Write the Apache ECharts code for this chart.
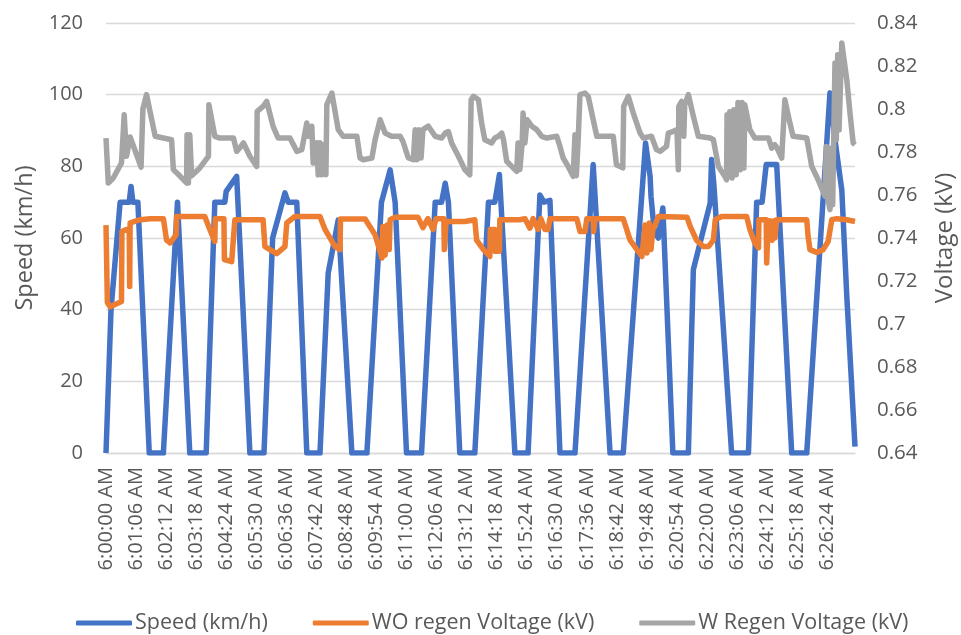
<!DOCTYPE html>
<html>
<head>
<meta charset="utf-8">
<script src="https://cdn.jsdelivr.net/npm/echarts@6/dist/echarts.min.js"></script>
<style>html,body{margin:0;padding:0;background:#fff}#c{width:961px;height:635px}</style>
</head>
<body>
<div id="c"></div>
<script>
// x tick labels (every 66 s from 6:00:00 AM)
const tickLabels = ['6:00:00 AM','6:01:06 AM','6:02:12 AM','6:03:18 AM','6:04:24 AM','6:05:30 AM','6:06:36 AM','6:07:42 AM','6:08:48 AM','6:09:54 AM','6:11:00 AM','6:12:06 AM','6:13:12 AM','6:14:18 AM','6:15:24 AM','6:16:30 AM','6:17:36 AM','6:18:42 AM','6:19:48 AM','6:20:54 AM','6:22:00 AM','6:23:06 AM','6:24:12 AM','6:25:18 AM','6:26:24 AM'];
const tickStepSec = 66;
const endSec = 1645;

// Speed (km/h): seconds after 6:00:00 AM, value
const speedT = [0,11,31,51,55,59,70,95,126,157,184,220,239,261,264,287,316,347,366,393,400,419,441,470,488,510,540,573,605,624,635,660,693,723,737,745,752,777,810,840,854,864,898,927,953,962,975,997,1030,1070,1107,1136,1185,1195,1197,1204,1213,1223,1245,1279,1290,1327,1330,1335,1374,1411,1429,1441,1450,1473,1506,1539,1590,1601,1616,1627,1645];
const speedV = [0,40,70,70,74.4,70,70,0,0,70,0,0,70,70,73,77.2,0,0,60,72.6,70,70,0,0,50.2,65,0,0,70,79,70,0,0,70,70,75.3,70,0,0,70,70,77.7,0,0,72,70,70.5,0,0,80.5,0,0,86.5,77.2,71.6,62,60,68.4,0,0,51.2,69.8,81.9,75,0,0,70,70,80.5,80.5,0,0,100.5,87.4,73.4,43.7,1.8];

// WO regen Voltage (kV)
const woT = [0,3,9,34,35,45,51,52,53,75,97,126,133,141,154,155,217,228,239,240,259,260,276,283,345,349,375,393,397,415,470,481,503,514,515,569,591,606,608,613,617,622,624,635,685,696,707,718,725,742,743,747,788,810,814,829,843,844,854,855,864,865,909,920,931,938,949,955,964,971,975,1034,1041,1052,1056,1070,1071,1074,1136,1140,1151,1177,1184,1188,1193,1197,1201,1206,1213,1276,1283,1297,1312,1323,1334,1338,1352,1407,1414,1425,1433,1434,1450,1451,1453,1458,1463,1467,1469,1473,1539,1542,1546,1561,1575,1586,1594,1605,1627,1645];
const woV = [0.746,0.710,0.708,0.7105,0.743,0.744,0.744,0.7175,0.747,0.7485,0.749,0.749,0.739,0.7377,0.7415,0.750,0.750,0.744,0.7384,0.749,0.749,0.730,0.729,0.7485,0.7485,0.736,0.7327,0.736,0.747,0.750,0.750,0.744,0.736,0.7346,0.7488,0.7488,0.7415,0.7307,0.7454,0.732,0.746,0.7346,0.7485,0.7497,0.7497,0.7448,0.749,0.744,0.749,0.749,0.7346,0.7477,0.7477,0.7485,0.739,0.7346,0.7314,0.744,0.744,0.7338,0.7338,0.7485,0.7485,0.749,0.7446,0.749,0.744,0.749,0.744,0.744,0.749,0.749,0.743,0.743,0.749,0.749,0.743,0.749,0.749,0.7485,0.739,0.7314,0.746,0.733,0.747,0.7346,0.744,0.746,0.750,0.7497,0.7454,0.739,0.736,0.736,0.739,0.7485,0.750,0.750,0.744,0.7377,0.7354,0.7485,0.7485,0.7284,0.739,0.748,0.739,0.748,0.740,0.7485,0.7485,0.7407,0.7346,0.7333,0.7346,0.7384,0.7485,0.749,0.7485,0.7477];

// W Regen Voltage (kV)
const wT = [0,5,16,34,40,45,53,77,81,89,108,144,148,163,177,178,181,184,188,206,225,226,239,250,280,287,294,302,316,331,332,345,353,367,378,404,419,430,441,445,452,455,463,466,470,474,479,483,485,496,510,521,551,558,565,584,591,602,613,627,646,652,664,675,679,683,687,692,696,708,723,737,745,752,759,774,788,799,802,807,818,825,832,847,854,862,869,873,880,891,902,905,909,914,916,920,925,935,946,957,968,990,997,1004,1015,1026,1030,1033,1037,1041,1052,1059,1078,1114,1121,1135,1137,1147,1158,1173,1180,1198,1209,1217,1231,1235,1246,1254,1257,1258,1264,1269,1271,1279,1290,1301,1327,1334,1345,1359,1363,1364,1366,1370,1375,1379,1384,1388,1393,1397,1401,1403,1414,1425,1455,1462,1469,1474,1484,1491,1502,1509,1539,1550,1564,1579,1582,1586,1590,1592,1596,1601,1604,1607,1610,1616,1627,1634,1641,1645];
const wV = [0.7865,0.7656,0.7679,0.7749,0.7973,0.778,0.787,0.773,0.80,0.8067,0.7873,0.7857,0.7718,0.7687,0.7656,0.788,0.7656,0.788,0.769,0.7726,0.778,0.802,0.7873,0.7865,0.7865,0.7803,0.782,0.7842,0.778,0.7733,0.7989,0.8012,0.8035,0.7919,0.7865,0.7865,0.7803,0.7811,0.7935,0.7873,0.792,0.7749,0.7843,0.7694,0.7843,0.7694,0.7835,0.7694,0.802,0.8074,0.7904,0.7873,0.7873,0.7772,0.7764,0.7772,0.7857,0.795,0.7888,0.7873,0.7873,0.785,0.7772,0.7764,0.7904,0.7764,0.7904,0.7772,0.7904,0.792,0.7873,0.7865,0.7888,0.7895,0.7842,0.778,0.7718,0.7694,0.8043,0.8059,0.8043,0.7935,0.7857,0.7842,0.7865,0.7873,0.7888,0.7857,0.7757,0.7733,0.771,0.7842,0.7718,0.7842,0.7981,0.7842,0.795,0.792,0.7904,0.7873,0.7865,0.7873,0.7826,0.7772,0.7733,0.7687,0.788,0.769,0.7857,0.8067,0.8074,0.8059,0.7873,0.7873,0.7741,0.7726,0.8012,0.8059,0.7981,0.7888,0.7865,0.7873,0.7811,0.7803,0.7826,0.7888,0.7896,0.7904,0.7718,0.8012,0.8035,0.7873,0.802,0.8067,0.7966,0.7873,0.7865,0.7857,0.7733,0.7687,0.7671,0.7973,0.7694,0.7987,0.7679,0.7996,0.7694,0.803,0.7718,0.803,0.7726,0.802,0.7904,0.7865,0.7865,0.7818,0.7834,0.7818,0.7772,0.8043,0.7935,0.7873,0.7865,0.7733,0.7671,0.7594,0.7826,0.7578,0.7532,0.7817,0.7555,0.8214,0.7857,0.8252,0.7903,0.8307,0.8136,0.7981,0.7842,0.7834];

const zip = (t, v) => t.map((x, i) => [x, v[i]]);
const tickValues = tickLabels.map((_, i) => i * tickStepSec);
const FONT = 'Open Sans';
const TXT = '#595959';

const chart = echarts.init(document.getElementById('c'), null, {renderer: 'canvas'});
const lineSeries = (name, data, color, yIdx) => ({
  name, type: 'line', yAxisIndex: yIdx, data, showSymbol: false, symbol: 'none',
  animation: false, smooth: false,
  lineStyle: {color: color, width: 5.5, join: 'round'},
  itemStyle: {color: color},
  emphasis: {disabled: true}
});
chart.setOption({
  animation: false,
  textStyle: {fontFamily: FONT},
  grid: {left: 106, right: 106, top: 23, bottom: 182, containLabel: false, outerBoundsMode: 'none'},
  legend: {
    left: 71, top: 607, itemGap: 45, itemWidth: 56, itemHeight: 5,
    icon: 'roundRect',
    textStyle: {fontFamily: FONT, fontSize: 21.5, color: TXT, padding: [0, 0, 0, -2]},
    data: ['Speed (km/h)', 'WO regen Voltage (kV)', 'W Regen Voltage (kV)']
  },
  xAxis: {
    type: 'value', min: 0, max: endSec,
    axisLine: {show: true, onZero: false, lineStyle: {color: '#D9D9D9', width: 1.3}},
    axisTick: {show: false},
    splitLine: {show: false},
    axisLabel: {
      rotate: 90, margin: 14, customValues: tickValues,
      fontFamily: FONT, fontSize: 20, color: TXT,
      formatter: function (v) {
        const i = Math.round(v / tickStepSec);
        return tickLabels[i] || '';
      }
    }
  },
  yAxis: [
    {
      type: 'value', min: 0, max: 120, interval: 20, position: 'left',
      name: 'Speed (km/h)', nameLocation: 'middle', nameRotate: 90, nameGap: 67,
      nameTextStyle: {fontFamily: FONT, fontSize: 23.5, color: TXT},
      axisLine: {show: false}, axisTick: {show: false},
      axisLabel: {fontFamily: FONT, fontSize: 20, color: TXT, margin: 23},
      splitLine: {show: true, lineStyle: {color: '#D9D9D9', width: 1.3}}
    },
    {
      type: 'value', min: 0.64, max: 0.84, interval: 0.02, position: 'right',
      name: 'Voltage (kV)', nameLocation: 'middle', nameRotate: 90, nameGap: 78,
      nameTextStyle: {fontFamily: FONT, fontSize: 24, color: TXT},
      axisLine: {show: false}, axisTick: {show: false},
      axisLabel: {fontFamily: FONT, fontSize: 20.5, color: TXT, margin: 22},
      splitLine: {show: false}
    }
  ],
  series: [
    lineSeries('Speed (km/h)', zip(speedT, speedV), '#4472C4', 0),
    lineSeries('WO regen Voltage (kV)', zip(woT, woV), '#ED7D31', 1),
    lineSeries('W Regen Voltage (kV)', zip(wT, wV), '#A5A5A5', 1)
  ]
});
</script>
</body>
</html>
